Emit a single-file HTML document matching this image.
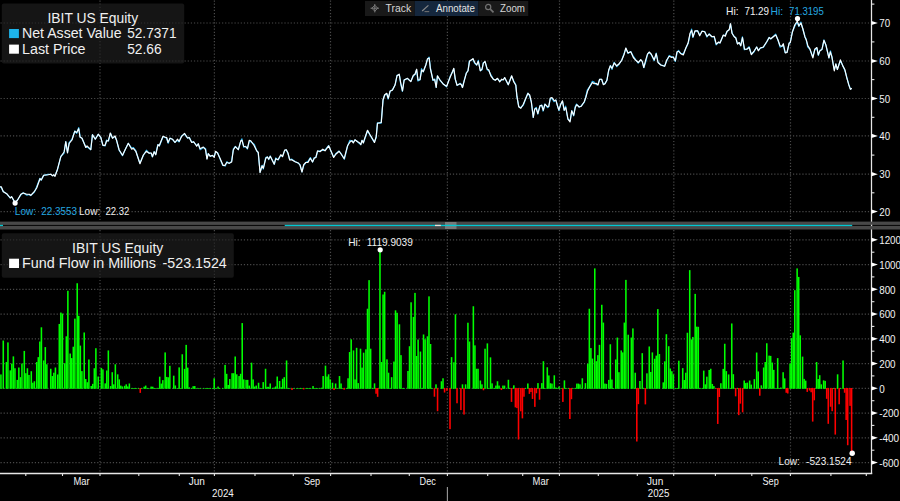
<!DOCTYPE html>
<html lang="en"><head><meta charset="utf-8"><title>IBIT US Equity</title>
<style>html,body{margin:0;padding:0;background:#000;}body{width:900px;height:501px;overflow:hidden;}svg{display:block;}text{font-family:"Liberation Sans", sans-serif;}</style>
</head><body>
<svg width="900" height="501" viewBox="0 0 900 501">
<rect x="0" y="0" width="900" height="501" fill="#000"/>
<g stroke="#4a4a4a" stroke-width="1.2" stroke-dasharray="1.2 1.92" fill="none">
<line x1="0.5" y1="23.0" x2="871.5" y2="23.0"/>
<line x1="0.5" y1="61.0" x2="871.5" y2="61.0"/>
<line x1="0.5" y1="98.5" x2="871.5" y2="98.5"/>
<line x1="0.5" y1="135.9" x2="871.5" y2="135.9"/>
<line x1="0.5" y1="174.2" x2="871.5" y2="174.2"/>
<line x1="0.5" y1="211.6" x2="871.5" y2="211.6"/>
<line x1="0.5" y1="239.8" x2="871.5" y2="239.8"/>
<line x1="0.5" y1="264.6" x2="871.5" y2="264.6"/>
<line x1="0.5" y1="289.3" x2="871.5" y2="289.3"/>
<line x1="0.5" y1="314.1" x2="871.5" y2="314.1"/>
<line x1="0.5" y1="338.8" x2="871.5" y2="338.8"/>
<line x1="0.5" y1="363.6" x2="871.5" y2="363.6"/>
<line x1="0.5" y1="388.3" x2="871.5" y2="388.3"/>
<line x1="0.5" y1="413.1" x2="871.5" y2="413.1"/>
<line x1="0.5" y1="437.8" x2="871.5" y2="437.8"/>
<line x1="0.5" y1="462.6" x2="871.5" y2="462.6"/>
<line x1="100.0" y1="0.5" x2="100.0" y2="221.5"/>
<line x1="100.0" y1="230" x2="100.0" y2="473"/>
<line x1="214.4" y1="0.5" x2="214.4" y2="221.5"/>
<line x1="214.4" y1="230" x2="214.4" y2="473"/>
<line x1="330.5" y1="0.5" x2="330.5" y2="221.5"/>
<line x1="330.5" y1="230" x2="330.5" y2="473"/>
<line x1="447.4" y1="0.5" x2="447.4" y2="221.5"/>
<line x1="447.4" y1="230" x2="447.4" y2="473"/>
<line x1="559.5" y1="0.5" x2="559.5" y2="221.5"/>
<line x1="559.5" y1="230" x2="559.5" y2="473"/>
<line x1="673.8" y1="0.5" x2="673.8" y2="221.5"/>
<line x1="673.8" y1="230" x2="673.8" y2="473"/>
<line x1="790.5" y1="0.5" x2="790.5" y2="221.5"/>
<line x1="790.5" y1="230" x2="790.5" y2="473"/>
</g>
<rect x="1.8" y="3.6" width="182.4" height="59.8" rx="2" fill="#202020" fill-opacity="0.66"/>
<rect x="1.8" y="233.3" width="232" height="44.4" rx="2" fill="#202020" fill-opacity="0.66"/>
<g fill="#00ff00"><rect x="0.16" y="374.44" width="1.56" height="14.36"/><rect x="2.49" y="340.53" width="1.56" height="48.27"/><rect x="5.61" y="362.06" width="1.56" height="26.74"/><rect x="7.16" y="342.39" width="1.56" height="46.41"/><rect x="9.50" y="370.36" width="1.56" height="18.44"/><rect x="11.06" y="363.55" width="1.56" height="25.25"/><rect x="12.61" y="356.37" width="1.56" height="32.43"/><rect x="14.17" y="368.25" width="1.56" height="20.55"/><rect x="16.50" y="379.88" width="1.56" height="8.92"/><rect x="18.06" y="367.51" width="1.56" height="21.29"/><rect x="19.62" y="377.16" width="1.56" height="11.64"/><rect x="21.17" y="363.55" width="1.56" height="25.25"/><rect x="23.51" y="350.93" width="1.56" height="37.87"/><rect x="25.07" y="373.20" width="1.56" height="15.60"/><rect x="26.62" y="368.25" width="1.56" height="20.55"/><rect x="28.18" y="374.94" width="1.56" height="13.87"/><rect x="30.51" y="371.22" width="1.56" height="17.58"/><rect x="32.07" y="382.73" width="1.56" height="6.07"/><rect x="33.63" y="381.25" width="1.56" height="7.55"/><rect x="35.96" y="362.06" width="1.56" height="26.74"/><rect x="37.52" y="357.12" width="1.56" height="31.69"/><rect x="39.07" y="341.52" width="1.56" height="47.28"/><rect x="40.63" y="327.29" width="1.56" height="61.51"/><rect x="42.97" y="360.46" width="1.56" height="28.34"/><rect x="44.52" y="347.09" width="1.56" height="41.71"/><rect x="46.08" y="364.29" width="1.56" height="24.51"/><rect x="49.97" y="368.75" width="1.56" height="20.05"/><rect x="51.53" y="376.05" width="1.56" height="12.75"/><rect x="53.08" y="372.71" width="1.56" height="16.09"/><rect x="54.64" y="367.51" width="1.56" height="21.29"/><rect x="56.98" y="374.44" width="1.56" height="14.36"/><rect x="58.53" y="323.95" width="1.56" height="64.85"/><rect x="60.09" y="312.56" width="1.56" height="76.24"/><rect x="61.65" y="313.56" width="1.56" height="75.25"/><rect x="63.98" y="363.18" width="1.56" height="25.62"/><rect x="65.54" y="336.32" width="1.56" height="52.48"/><rect x="67.09" y="290.79" width="1.56" height="98.01"/><rect x="69.43" y="353.53" width="1.56" height="35.27"/><rect x="70.98" y="358.11" width="1.56" height="30.69"/><rect x="72.54" y="346.72" width="1.56" height="42.08"/><rect x="74.10" y="318.63" width="1.56" height="70.17"/><rect x="76.43" y="283.24" width="1.56" height="105.56"/><rect x="77.99" y="315.78" width="1.56" height="73.02"/><rect x="79.55" y="345.61" width="1.56" height="43.19"/><rect x="81.10" y="371.10" width="1.56" height="17.70"/><rect x="83.44" y="332.49" width="1.56" height="56.31"/><rect x="84.99" y="379.02" width="1.56" height="9.78"/><rect x="86.55" y="382.24" width="1.56" height="6.56"/><rect x="88.11" y="359.47" width="1.56" height="29.33"/><rect x="90.44" y="385.95" width="1.56" height="2.85"/><rect x="92.00" y="383.85" width="1.56" height="4.95"/><rect x="93.56" y="368.25" width="1.56" height="20.55"/><rect x="95.11" y="348.21" width="1.56" height="40.59"/><rect x="97.45" y="376.54" width="1.56" height="12.26"/><rect x="100.56" y="367.88" width="1.56" height="20.92"/><rect x="102.12" y="369.37" width="1.56" height="19.43"/><rect x="104.45" y="383.35" width="1.56" height="5.45"/><rect x="106.01" y="370.48" width="1.56" height="18.32"/><rect x="107.56" y="350.43" width="1.56" height="38.37"/><rect x="109.90" y="386.07" width="1.56" height="2.73"/><rect x="111.46" y="372.21" width="1.56" height="16.59"/><rect x="113.01" y="384.34" width="1.56" height="4.46"/><rect x="114.57" y="364.29" width="1.56" height="24.51"/><rect x="116.90" y="374.32" width="1.56" height="14.48"/><rect x="118.46" y="379.39" width="1.56" height="9.41"/><rect x="120.02" y="385.58" width="1.56" height="3.22"/><rect x="121.57" y="386.44" width="1.56" height="2.36"/><rect x="123.91" y="385.82" width="1.56" height="2.98"/><rect x="125.47" y="384.34" width="1.56" height="4.46"/><rect x="127.02" y="386.44" width="1.56" height="2.36"/><rect x="128.58" y="383.47" width="1.56" height="5.33"/><rect x="130.91" y="388.1" width="1.56" height="0.7"/><rect x="132.47" y="388.1" width="1.56" height="0.7"/><rect x="134.03" y="388.1" width="1.56" height="0.7"/><rect x="135.58" y="388.1" width="1.56" height="0.7"/><rect x="137.92" y="388.1" width="1.56" height="0.7"/><rect x="141.03" y="388.1" width="1.56" height="0.7"/><rect x="143.37" y="386.69" width="1.56" height="2.11"/><rect x="144.92" y="385.58" width="1.56" height="3.22"/><rect x="146.48" y="388.1" width="1.56" height="0.7"/><rect x="148.04" y="388.1" width="1.56" height="0.7"/><rect x="150.37" y="386.57" width="1.56" height="2.23"/><rect x="151.93" y="386.69" width="1.56" height="2.11"/><rect x="153.48" y="388.1" width="1.56" height="0.7"/><rect x="155.04" y="388.1" width="1.56" height="0.7"/><rect x="157.38" y="387.93" width="1.56" height="0.87"/><rect x="158.93" y="376.67" width="1.56" height="12.13"/><rect x="160.49" y="383.60" width="1.56" height="5.20"/><rect x="162.05" y="380.13" width="1.56" height="8.67"/><rect x="164.38" y="352.41" width="1.56" height="36.39"/><rect x="165.94" y="376.92" width="1.56" height="11.88"/><rect x="167.49" y="377.29" width="1.56" height="11.51"/><rect x="169.05" y="365.78" width="1.56" height="23.02"/><rect x="172.94" y="375.68" width="1.56" height="13.12"/><rect x="174.50" y="385.45" width="1.56" height="3.35"/><rect x="176.83" y="388.05" width="1.56" height="0.75"/><rect x="178.39" y="367.39" width="1.56" height="21.41"/><rect x="179.95" y="388.1" width="1.56" height="0.7"/><rect x="181.50" y="354.27" width="1.56" height="34.53"/><rect x="183.84" y="368.87" width="1.56" height="19.93"/><rect x="185.39" y="344.86" width="1.56" height="43.94"/><rect x="186.95" y="367.63" width="1.56" height="21.17"/><rect x="188.51" y="387.31" width="1.56" height="1.49"/><rect x="190.84" y="388.1" width="1.56" height="0.7"/><rect x="192.40" y="386.20" width="1.56" height="2.60"/><rect x="193.96" y="386.07" width="1.56" height="2.73"/><rect x="195.51" y="388.1" width="1.56" height="0.7"/><rect x="197.85" y="388.1" width="1.56" height="0.7"/><rect x="199.40" y="388.1" width="1.56" height="0.7"/><rect x="202.52" y="388.1" width="1.56" height="0.7"/><rect x="204.85" y="388.1" width="1.56" height="0.7"/><rect x="206.41" y="388.1" width="1.56" height="0.7"/><rect x="207.96" y="388.1" width="1.56" height="0.7"/><rect x="209.52" y="388.1" width="1.56" height="0.7"/><rect x="211.86" y="388.1" width="1.56" height="0.7"/><rect x="213.41" y="378.28" width="1.56" height="10.52"/><rect x="214.97" y="388.1" width="1.56" height="0.7"/><rect x="217.30" y="386.57" width="1.56" height="2.23"/><rect x="218.86" y="388.1" width="1.56" height="0.7"/><rect x="221.97" y="388.1" width="1.56" height="0.7"/><rect x="224.31" y="364.91" width="1.56" height="23.89"/><rect x="225.87" y="373.82" width="1.56" height="14.98"/><rect x="227.42" y="384.96" width="1.56" height="3.84"/><rect x="228.98" y="379.02" width="1.56" height="9.78"/><rect x="231.31" y="373.20" width="1.56" height="15.60"/><rect x="232.87" y="373.20" width="1.56" height="15.60"/><rect x="234.43" y="356.50" width="1.56" height="32.30"/><rect x="235.98" y="374.32" width="1.56" height="14.48"/><rect x="238.32" y="376.05" width="1.56" height="12.75"/><rect x="239.87" y="373.82" width="1.56" height="14.98"/><rect x="241.43" y="323.08" width="1.56" height="65.72"/><rect x="242.99" y="379.39" width="1.56" height="9.41"/><rect x="245.32" y="379.88" width="1.56" height="8.92"/><rect x="246.88" y="379.88" width="1.56" height="8.92"/><rect x="248.44" y="385.58" width="1.56" height="3.22"/><rect x="250.77" y="362.68" width="1.56" height="26.12"/><rect x="252.33" y="379.39" width="1.56" height="9.41"/><rect x="253.88" y="386.57" width="1.56" height="2.23"/><rect x="255.44" y="385.58" width="1.56" height="3.22"/><rect x="257.78" y="382.73" width="1.56" height="6.07"/><rect x="259.33" y="388.1" width="1.56" height="0.7"/><rect x="260.89" y="388.1" width="1.56" height="0.7"/><rect x="262.44" y="382.11" width="1.56" height="6.69"/><rect x="264.78" y="368.75" width="1.56" height="20.05"/><rect x="266.34" y="386.81" width="1.56" height="1.99"/><rect x="267.89" y="386.81" width="1.56" height="1.99"/><rect x="269.45" y="383.47" width="1.56" height="5.33"/><rect x="271.78" y="387.93" width="1.56" height="0.87"/><rect x="273.34" y="387.56" width="1.56" height="1.24"/><rect x="274.90" y="386.44" width="1.56" height="2.36"/><rect x="276.45" y="376.54" width="1.56" height="12.26"/><rect x="278.79" y="381.00" width="1.56" height="7.80"/><rect x="280.35" y="387.19" width="1.56" height="1.61"/><rect x="281.90" y="378.77" width="1.56" height="10.03"/><rect x="283.46" y="377.16" width="1.56" height="11.64"/><rect x="285.79" y="360.46" width="1.56" height="28.34"/><rect x="287.35" y="388.1" width="1.56" height="0.7"/><rect x="288.91" y="388.1" width="1.56" height="0.7"/><rect x="292.80" y="388.1" width="1.56" height="0.7"/><rect x="295.91" y="388.1" width="1.56" height="0.7"/><rect x="298.25" y="388.1" width="1.56" height="0.7"/><rect x="299.80" y="388.1" width="1.56" height="0.7"/><rect x="301.36" y="388.1" width="1.56" height="0.7"/><rect x="305.25" y="388.1" width="1.56" height="0.7"/><rect x="306.81" y="388.1" width="1.56" height="0.7"/><rect x="308.36" y="388.1" width="1.56" height="0.7"/><rect x="309.92" y="388.1" width="1.56" height="0.7"/><rect x="312.26" y="386.07" width="1.56" height="2.73"/><rect x="313.81" y="388.1" width="1.56" height="0.7"/><rect x="315.37" y="388.1" width="1.56" height="0.7"/><rect x="316.93" y="388.1" width="1.56" height="0.7"/><rect x="319.26" y="388.1" width="1.56" height="0.7"/><rect x="320.82" y="387.68" width="1.56" height="1.12"/><rect x="322.37" y="376.05" width="1.56" height="12.75"/><rect x="324.71" y="365.65" width="1.56" height="23.15"/><rect x="326.26" y="376.54" width="1.56" height="12.26"/><rect x="327.82" y="374.32" width="1.56" height="14.48"/><rect x="329.38" y="379.39" width="1.56" height="9.41"/><rect x="331.71" y="382.73" width="1.56" height="6.07"/><rect x="334.83" y="383.47" width="1.56" height="5.33"/><rect x="336.38" y="388.1" width="1.56" height="0.7"/><rect x="338.72" y="376.05" width="1.56" height="12.75"/><rect x="340.27" y="383.47" width="1.56" height="5.33"/><rect x="341.83" y="388.1" width="1.56" height="0.7"/><rect x="345.72" y="388.1" width="1.56" height="0.7"/><rect x="347.28" y="378.28" width="1.56" height="10.52"/><rect x="348.84" y="352.04" width="1.56" height="36.76"/><rect x="350.39" y="339.30" width="1.56" height="49.50"/><rect x="352.73" y="350.43" width="1.56" height="38.37"/><rect x="354.28" y="379.39" width="1.56" height="9.41"/><rect x="355.84" y="347.83" width="1.56" height="40.97"/><rect x="357.40" y="383.10" width="1.56" height="5.70"/><rect x="359.73" y="348.70" width="1.56" height="40.10"/><rect x="361.29" y="367.63" width="1.56" height="21.17"/><rect x="362.84" y="352.66" width="1.56" height="36.14"/><rect x="365.18" y="349.32" width="1.56" height="39.48"/><rect x="366.74" y="308.73" width="1.56" height="80.07"/><rect x="368.29" y="280.14" width="1.56" height="108.66"/><rect x="369.85" y="348.70" width="1.56" height="40.10"/><rect x="372.18" y="388.1" width="1.56" height="0.7"/><rect x="373.74" y="383.35" width="1.56" height="5.45"/><rect x="379.19" y="249.71" width="1.56" height="139.09"/><rect x="380.75" y="362.06" width="1.56" height="26.74"/><rect x="382.30" y="294.50" width="1.56" height="94.30"/><rect x="383.86" y="291.77" width="1.56" height="97.03"/><rect x="386.19" y="359.34" width="1.56" height="29.46"/><rect x="387.75" y="372.71" width="1.56" height="16.09"/><rect x="389.31" y="388.1" width="1.56" height="0.7"/><rect x="390.86" y="377.16" width="1.56" height="11.64"/><rect x="393.20" y="361.57" width="1.56" height="27.23"/><rect x="394.75" y="310.34" width="1.56" height="78.46"/><rect x="396.31" y="312.81" width="1.56" height="75.99"/><rect x="398.65" y="324.32" width="1.56" height="64.48"/><rect x="400.20" y="355.13" width="1.56" height="33.67"/><rect x="401.76" y="388.1" width="1.56" height="0.7"/><rect x="403.32" y="388.1" width="1.56" height="0.7"/><rect x="407.21" y="370.98" width="1.56" height="17.82"/><rect x="408.76" y="346.23" width="1.56" height="42.57"/><rect x="410.32" y="302.29" width="1.56" height="86.51"/><rect x="412.66" y="316.90" width="1.56" height="71.90"/><rect x="414.21" y="292.89" width="1.56" height="95.91"/><rect x="415.77" y="356.00" width="1.56" height="32.80"/><rect x="417.33" y="339.54" width="1.56" height="49.26"/><rect x="419.66" y="351.55" width="1.56" height="37.25"/><rect x="421.22" y="388.1" width="1.56" height="0.7"/><rect x="422.77" y="334.47" width="1.56" height="54.33"/><rect x="424.33" y="339.30" width="1.56" height="49.50"/><rect x="426.66" y="336.32" width="1.56" height="52.48"/><rect x="428.22" y="296.35" width="1.56" height="92.45"/><rect x="429.78" y="344.00" width="1.56" height="44.80"/><rect x="431.33" y="388.1" width="1.56" height="0.7"/><rect x="435.23" y="384.34" width="1.56" height="4.46"/><rect x="440.67" y="381.25" width="1.56" height="7.55"/><rect x="442.23" y="378.28" width="1.56" height="10.52"/><rect x="450.79" y="357.12" width="1.56" height="31.69"/><rect x="453.13" y="362.31" width="1.56" height="26.49"/><rect x="454.68" y="314.30" width="1.56" height="74.50"/><rect x="461.69" y="384.34" width="1.56" height="4.46"/><rect x="464.80" y="384.34" width="1.56" height="4.46"/><rect x="467.14" y="322.71" width="1.56" height="66.09"/><rect x="468.69" y="341.52" width="1.56" height="47.28"/><rect x="472.58" y="306.25" width="1.56" height="82.55"/><rect x="474.14" y="345.36" width="1.56" height="43.44"/><rect x="475.70" y="368.75" width="1.56" height="20.05"/><rect x="477.25" y="368.75" width="1.56" height="20.05"/><rect x="479.59" y="380.50" width="1.56" height="8.30"/><rect x="481.15" y="384.34" width="1.56" height="4.46"/><rect x="484.26" y="348.70" width="1.56" height="40.10"/><rect x="486.59" y="343.38" width="1.56" height="45.42"/><rect x="488.15" y="388.1" width="1.56" height="0.7"/><rect x="489.71" y="357.36" width="1.56" height="31.44"/><rect x="491.26" y="383.35" width="1.56" height="5.45"/><rect x="493.60" y="388.1" width="1.56" height="0.7"/><rect x="495.15" y="385.58" width="1.56" height="3.22"/><rect x="496.71" y="381.25" width="1.56" height="7.55"/><rect x="498.27" y="385.58" width="1.56" height="3.22"/><rect x="502.16" y="385.58" width="1.56" height="3.22"/><rect x="503.72" y="385.58" width="1.56" height="3.22"/><rect x="507.61" y="379.76" width="1.56" height="9.04"/><rect x="509.16" y="388.1" width="1.56" height="0.7"/><rect x="513.06" y="385.33" width="1.56" height="3.47"/><rect x="524.73" y="388.1" width="1.56" height="0.7"/><rect x="527.06" y="383.47" width="1.56" height="5.33"/><rect x="537.18" y="383.10" width="1.56" height="5.70"/><rect x="541.07" y="383.10" width="1.56" height="5.70"/><rect x="542.63" y="361.20" width="1.56" height="27.60"/><rect x="544.19" y="388.1" width="1.56" height="0.7"/><rect x="546.52" y="367.26" width="1.56" height="21.54"/><rect x="548.08" y="375.43" width="1.56" height="13.37"/><rect x="549.64" y="383.23" width="1.56" height="5.57"/><rect x="551.19" y="383.60" width="1.56" height="5.20"/><rect x="553.53" y="375.31" width="1.56" height="13.49"/><rect x="555.08" y="387.56" width="1.56" height="1.24"/><rect x="556.64" y="388.1" width="1.56" height="0.7"/><rect x="558.20" y="386.57" width="1.56" height="2.23"/><rect x="560.53" y="388.1" width="1.56" height="0.7"/><rect x="563.64" y="380.38" width="1.56" height="8.42"/><rect x="565.20" y="388.1" width="1.56" height="0.7"/><rect x="567.54" y="388.1" width="1.56" height="0.7"/><rect x="572.21" y="388.1" width="1.56" height="0.7"/><rect x="574.54" y="388.1" width="1.56" height="0.7"/><rect x="576.10" y="383.60" width="1.56" height="5.20"/><rect x="577.65" y="383.60" width="1.56" height="5.20"/><rect x="579.21" y="384.34" width="1.56" height="4.46"/><rect x="581.55" y="378.28" width="1.56" height="10.52"/><rect x="584.66" y="383.10" width="1.56" height="5.70"/><rect x="586.99" y="363.80" width="1.56" height="25.00"/><rect x="588.55" y="308.73" width="1.56" height="80.07"/><rect x="590.11" y="348.08" width="1.56" height="40.72"/><rect x="591.66" y="358.60" width="1.56" height="30.20"/><rect x="594.00" y="268.39" width="1.56" height="120.41"/><rect x="595.55" y="361.20" width="1.56" height="27.60"/><rect x="597.11" y="355.13" width="1.56" height="33.67"/><rect x="598.67" y="344.86" width="1.56" height="43.94"/><rect x="601.00" y="304.77" width="1.56" height="84.03"/><rect x="602.56" y="322.59" width="1.56" height="66.21"/><rect x="604.12" y="383.60" width="1.56" height="5.20"/><rect x="605.67" y="383.85" width="1.56" height="4.95"/><rect x="608.01" y="379.88" width="1.56" height="8.92"/><rect x="609.56" y="344.25" width="1.56" height="44.56"/><rect x="611.12" y="379.51" width="1.56" height="9.29"/><rect x="612.68" y="388.1" width="1.56" height="0.7"/><rect x="615.01" y="359.47" width="1.56" height="29.33"/><rect x="616.57" y="337.56" width="1.56" height="51.24"/><rect x="618.13" y="372.21" width="1.56" height="16.59"/><rect x="620.46" y="350.43" width="1.56" height="38.37"/><rect x="622.02" y="352.41" width="1.56" height="36.39"/><rect x="623.57" y="322.59" width="1.56" height="66.21"/><rect x="625.13" y="279.89" width="1.56" height="108.91"/><rect x="627.46" y="334.72" width="1.56" height="54.08"/><rect x="630.58" y="337.56" width="1.56" height="51.24"/><rect x="632.13" y="328.41" width="1.56" height="60.39"/><rect x="634.47" y="372.71" width="1.56" height="16.09"/><rect x="639.14" y="381.00" width="1.56" height="7.80"/><rect x="641.47" y="353.16" width="1.56" height="35.64"/><rect x="643.03" y="388.1" width="1.56" height="0.7"/><rect x="646.14" y="373.33" width="1.56" height="15.47"/><rect x="648.48" y="346.47" width="1.56" height="42.33"/><rect x="650.04" y="371.97" width="1.56" height="16.83"/><rect x="651.59" y="352.41" width="1.56" height="36.39"/><rect x="653.93" y="358.72" width="1.56" height="30.08"/><rect x="655.48" y="355.63" width="1.56" height="33.17"/><rect x="657.04" y="309.10" width="1.56" height="79.70"/><rect x="658.60" y="354.02" width="1.56" height="34.78"/><rect x="662.49" y="382.36" width="1.56" height="6.44"/><rect x="664.04" y="361.32" width="1.56" height="27.48"/><rect x="665.60" y="334.22" width="1.56" height="54.58"/><rect x="667.94" y="346.23" width="1.56" height="42.57"/><rect x="669.49" y="368.50" width="1.56" height="20.30"/><rect x="671.05" y="371.22" width="1.56" height="17.58"/><rect x="672.61" y="374.32" width="1.56" height="14.48"/><rect x="674.94" y="388.1" width="1.56" height="0.7"/><rect x="676.50" y="388.1" width="1.56" height="0.7"/><rect x="678.05" y="360.70" width="1.56" height="28.10"/><rect x="681.95" y="368.13" width="1.56" height="20.67"/><rect x="683.50" y="380.01" width="1.56" height="8.79"/><rect x="685.06" y="372.71" width="1.56" height="16.09"/><rect x="686.61" y="332.74" width="1.56" height="56.06"/><rect x="688.95" y="270.12" width="1.56" height="118.68"/><rect x="690.51" y="339.42" width="1.56" height="49.38"/><rect x="692.06" y="336.94" width="1.56" height="51.86"/><rect x="694.40" y="293.88" width="1.56" height="94.92"/><rect x="695.95" y="326.67" width="1.56" height="62.13"/><rect x="697.51" y="326.80" width="1.56" height="62.00"/><rect x="699.07" y="388.1" width="1.56" height="0.7"/><rect x="701.40" y="388.1" width="1.56" height="0.7"/><rect x="702.96" y="370.60" width="1.56" height="18.20"/><rect x="704.52" y="384.34" width="1.56" height="4.46"/><rect x="706.07" y="376.67" width="1.56" height="12.13"/><rect x="708.41" y="369.99" width="1.56" height="18.81"/><rect x="709.96" y="368.75" width="1.56" height="20.05"/><rect x="711.52" y="383.97" width="1.56" height="4.83"/><rect x="713.08" y="386.07" width="1.56" height="2.73"/><rect x="720.08" y="383.23" width="1.56" height="5.57"/><rect x="722.42" y="368.87" width="1.56" height="19.93"/><rect x="723.97" y="343.75" width="1.56" height="45.05"/><rect x="725.53" y="371.10" width="1.56" height="17.70"/><rect x="727.86" y="374.44" width="1.56" height="14.36"/><rect x="729.42" y="388.1" width="1.56" height="0.7"/><rect x="730.98" y="323.46" width="1.56" height="65.34"/><rect x="732.53" y="374.19" width="1.56" height="14.61"/><rect x="736.43" y="388.1" width="1.56" height="0.7"/><rect x="743.43" y="380.50" width="1.56" height="8.30"/><rect x="744.99" y="383.10" width="1.56" height="5.70"/><rect x="746.54" y="382.61" width="1.56" height="6.19"/><rect x="748.88" y="380.50" width="1.56" height="8.30"/><rect x="750.43" y="384.59" width="1.56" height="4.21"/><rect x="753.55" y="379.14" width="1.56" height="9.66"/><rect x="755.88" y="352.54" width="1.56" height="36.26"/><rect x="757.44" y="371.47" width="1.56" height="17.33"/><rect x="760.55" y="385.33" width="1.56" height="3.47"/><rect x="762.89" y="367.51" width="1.56" height="21.29"/><rect x="764.44" y="362.06" width="1.56" height="26.74"/><rect x="766.00" y="343.25" width="1.56" height="45.55"/><rect x="768.34" y="355.63" width="1.56" height="33.17"/><rect x="769.89" y="355.88" width="1.56" height="32.92"/><rect x="771.45" y="362.56" width="1.56" height="26.24"/><rect x="773.01" y="369.86" width="1.56" height="18.94"/><rect x="775.34" y="388.1" width="1.56" height="0.7"/><rect x="776.90" y="358.11" width="1.56" height="30.69"/><rect x="778.45" y="388.1" width="1.56" height="0.7"/><rect x="780.01" y="387.56" width="1.56" height="1.24"/><rect x="782.35" y="372.21" width="1.56" height="16.59"/><rect x="783.90" y="378.40" width="1.56" height="10.40"/><rect x="789.35" y="363.43" width="1.56" height="25.37"/><rect x="790.91" y="338.06" width="1.56" height="50.74"/><rect x="792.46" y="332.61" width="1.56" height="56.19"/><rect x="794.02" y="290.17" width="1.56" height="98.63"/><rect x="796.35" y="268.39" width="1.56" height="120.41"/><rect x="797.91" y="276.93" width="1.56" height="111.88"/><rect x="799.47" y="335.34" width="1.56" height="53.46"/><rect x="801.80" y="356.62" width="1.56" height="32.18"/><rect x="803.36" y="378.90" width="1.56" height="9.90"/><rect x="804.92" y="380.63" width="1.56" height="8.17"/><rect x="815.81" y="362.06" width="1.56" height="26.74"/><rect x="817.37" y="379.02" width="1.56" height="9.78"/><rect x="818.92" y="375.18" width="1.56" height="13.62"/><rect x="820.48" y="384.34" width="1.56" height="4.46"/><rect x="822.82" y="380.38" width="1.56" height="8.42"/><rect x="824.37" y="380.88" width="1.56" height="7.93"/><rect x="832.93" y="388.1" width="1.56" height="0.7"/><rect x="836.83" y="374.32" width="1.56" height="14.48"/><rect x="839.94" y="388.1" width="1.56" height="0.7"/><rect x="842.27" y="360.46" width="1.56" height="28.34"/></g>
<g fill="#ff0000"><rect x="139.47" y="388.00" width="1.56" height="4.88"/><rect x="291.24" y="388.00" width="1.56" height="2.03"/><rect x="302.92" y="388.00" width="1.56" height="1.41"/><rect x="333.27" y="388.00" width="1.56" height="2.03"/><rect x="343.39" y="388.00" width="1.56" height="1.66"/><rect x="375.30" y="388.00" width="1.56" height="5.75"/><rect x="376.85" y="388.00" width="1.56" height="8.84"/><rect x="433.67" y="388.00" width="1.56" height="8.72"/><rect x="436.78" y="388.00" width="1.56" height="23.19"/><rect x="443.79" y="388.00" width="1.56" height="4.51"/><rect x="446.12" y="388.00" width="1.56" height="2.78"/><rect x="449.24" y="388.00" width="1.56" height="41.14"/><rect x="456.24" y="388.00" width="1.56" height="15.27"/><rect x="460.13" y="388.00" width="1.56" height="22.08"/><rect x="463.24" y="388.00" width="1.56" height="26.54"/><rect x="482.70" y="388.00" width="1.56" height="2.28"/><rect x="500.60" y="388.00" width="1.56" height="2.03"/><rect x="510.72" y="388.00" width="1.56" height="13.91"/><rect x="514.61" y="388.00" width="1.56" height="19.36"/><rect x="516.17" y="388.00" width="1.56" height="20.10"/><rect x="517.73" y="388.00" width="1.56" height="51.53"/><rect x="520.06" y="388.00" width="1.56" height="23.32"/><rect x="521.62" y="388.00" width="1.56" height="30.37"/><rect x="523.17" y="388.00" width="1.56" height="8.72"/><rect x="528.62" y="388.00" width="1.56" height="5.87"/><rect x="530.18" y="388.00" width="1.56" height="4.01"/><rect x="531.73" y="388.00" width="1.56" height="10.94"/><rect x="534.07" y="388.00" width="1.56" height="18.86"/><rect x="535.63" y="388.00" width="1.56" height="5.25"/><rect x="538.74" y="388.00" width="1.56" height="11.69"/><rect x="562.09" y="388.00" width="1.56" height="13.91"/><rect x="569.09" y="388.00" width="1.56" height="30.99"/><rect x="570.65" y="388.00" width="1.56" height="11.19"/><rect x="636.03" y="388.00" width="1.56" height="53.51"/><rect x="637.58" y="388.00" width="1.56" height="16.14"/><rect x="644.59" y="388.00" width="1.56" height="16.39"/><rect x="715.41" y="388.00" width="1.56" height="0.67"/><rect x="716.97" y="388.00" width="1.56" height="35.94"/><rect x="718.52" y="388.00" width="1.56" height="8.96"/><rect x="734.87" y="388.00" width="1.56" height="8.34"/><rect x="737.98" y="388.00" width="1.56" height="27.15"/><rect x="739.54" y="388.00" width="1.56" height="15.65"/><rect x="741.87" y="388.00" width="1.56" height="24.31"/><rect x="759.00" y="388.00" width="1.56" height="7.73"/><rect x="785.46" y="388.00" width="1.56" height="4.75"/><rect x="787.01" y="388.00" width="1.56" height="5.50"/><rect x="806.47" y="388.00" width="1.56" height="3.89"/><rect x="808.81" y="388.00" width="1.56" height="2.53"/><rect x="810.36" y="388.00" width="1.56" height="4.26"/><rect x="811.92" y="388.00" width="1.56" height="33.59"/><rect x="813.48" y="388.00" width="1.56" height="12.30"/><rect x="825.93" y="388.00" width="1.56" height="10.82"/><rect x="827.49" y="388.00" width="1.56" height="35.82"/><rect x="829.82" y="388.00" width="1.56" height="18.74"/><rect x="831.38" y="388.00" width="1.56" height="23.19"/><rect x="834.49" y="388.00" width="1.56" height="46.58"/><rect x="838.38" y="388.00" width="1.56" height="16.26"/><rect x="843.83" y="388.00" width="1.56" height="4.75"/><rect x="845.39" y="388.00" width="1.56" height="31.98"/><rect x="846.94" y="388.00" width="1.56" height="57.23"/><rect x="849.28" y="388.00" width="1.56" height="17.87"/><rect x="850.83" y="388.00" width="1.56" height="65.04"/></g>
<polyline points="-0.1,187.2 1.1,187.3 3.3,191.6 6.7,193.8 10.1,197.8 11.5,196.8 15.0,202.6 17.4,200.0 20.9,194.9 23.2,192.8 26.9,195.2 29.1,194.5 30.6,195.6 34.4,192.0 36.5,187.3 39.9,178.3 41.2,180.2 43.6,175.4 48.4,174.3 50.8,174.4 52.5,175.5 53.8,175.6 54.9,175.7 57.7,168.9 60.9,156.3 64.0,153.2 65.8,141.7 67.5,152.7 69.0,142.8 72.0,139.2 74.9,131.0 76.7,133.3 78.7,127.7 80.2,137.3 82.0,138.2 85.9,147.3 87.1,146.8 90.7,149.7 92.4,134.6 95.3,139.1 98.1,134.3 100.9,137.6 102.8,145.3 105.2,145.8 106.5,140.1 108.5,141.0 110.5,133.3 112.5,138.0 114.9,136.8 116.5,139.9 119.0,150.0 122.5,155.7 125.0,150.0 128.3,143.3 131.6,148.0 133.4,147.7 135.8,150.7 139.8,163.1 143.5,155.2 146.4,150.2 149.1,153.1 150.1,153.2 151.1,153.3 152.3,156.9 154.1,151.7 155.6,154.7 157.8,144.6 159.4,145.9 163.1,136.5 165.7,137.8 166.6,138.3 168.2,143.2 170.0,138.1 172.3,139.2 174.9,142.4 177.3,140.2 179.0,141.9 181.5,136.1 184.5,134.0 187.7,138.1 189.4,137.4 191.6,142.1 193.5,141.8 196.8,145.6 198.2,143.9 200.2,149.7 203.5,147.4 205.6,148.7 206.9,158.7 208.1,153.6 210.1,156.2 212.6,155.7 214.4,156.3 215.7,151.7 217.7,152.7 219.9,158.6 222.8,165.5 225.2,166.0 226.9,161.7 229.3,163.4 231.5,161.4 233.4,149.0 235.4,146.4 238.4,149.7 240.7,141.3 241.9,138.9 243.7,147.1 245.6,146.4 247.3,149.0 249.4,141.3 250.6,141.5 254.3,144.4 256.6,150.5 258.1,152.4 260.2,172.1 262.2,165.3 263.3,169.0 265.7,157.6 267.4,156.9 268.7,159.6 270.2,156.0 274.4,164.3 275.7,158.0 278.2,159.9 280.8,155.3 282.5,156.4 284.7,150.6 286.1,149.8 287.8,153.1 289.7,159.7 291.8,159.2 295.0,161.5 298.3,163.1 300.0,164.7 301.9,171.8 303.7,165.6 305.8,162.6 308.0,161.3 310.4,157.6 312.6,162.0 314.2,157.7 316.0,157.4 317.6,151.7 319.9,150.8 322.8,150.2 324.8,150.4 328.5,145.6 331.2,151.8 333.5,157.0 336.0,153.4 339.0,151.1 341.5,154.2 344.4,159.1 347.7,145.7 349.9,140.3 352.2,140.9 353.1,142.4 354.9,140.0 357.3,141.3 359.0,143.3 360.8,144.6 361.9,140.3 363.4,142.8 365.5,136.7 367.6,130.6 369.6,134.2 371.5,137.6 374.3,142.1 376.2,137.6 377.4,122.8 381.1,123.1 383.1,99.7 384.5,95.5 386.7,93.6 388.1,99.0 390.2,91.0 392.3,90.1 395.2,84.8 397.0,75.4 399.4,74.8 400.7,83.8 402.4,91.3 404.0,80.1 407.4,78.5 410.7,81.4 413.2,76.2 415.0,74.4 416.5,69.7 417.9,80.9 420.0,79.8 421.5,68.7 423.1,71.9 426.0,64.4 427.7,59.0 429.1,57.2 430.5,68.3 432.9,80.4 434.8,79.0 436.2,87.4 437.3,76.0 439.8,80.0 443.1,83.8 446.5,86.9 450.1,76.6 452.4,71.7 453.8,68.8 455.1,78.8 457.2,85.4 460.2,83.3 461.5,84.6 462.4,87.5 464.1,80.8 466.3,72.9 468.0,70.8 469.3,61.3 472.9,58.9 474.5,63.0 476.6,65.1 478.3,60.4 480.4,70.6 482.1,69.6 483.2,62.9 485.2,61.8 487.3,69.9 488.5,70.3 490.9,74.8 493.4,79.3 495.3,80.0 497.5,78.8 499.9,81.1 501.7,79.9 503.4,79.5 504.6,77.8 508.2,84.8 511.5,76.2 513.8,81.1 515.9,85.0 516.8,96.1 518.8,106.7 520.8,107.6 523.4,105.0 525.7,98.7 527.8,93.2 529.6,95.9 531.4,102.3 533.2,117.4 534.7,108.8 536.3,107.4 537.9,114.0 539.9,105.9 541.8,105.1 543.1,111.0 544.8,104.1 547.6,107.5 548.8,106.5 550.3,98.6 552.0,98.4 554.0,101.6 556.0,100.1 557.5,105.8 559.0,110.6 560.7,104.1 562.4,101.2 564.2,110.2 565.6,106.2 567.8,119.0 570.2,120.9 571.8,110.7 573.6,115.8 575.1,107.1 576.5,104.1 579.1,107.0 581.1,106.0 584.4,102.1 585.6,97.5 587.3,90.2 589.9,86.4 592.4,81.3 594.1,82.1 596.3,84.6 597.9,84.6 599.5,79.4 601.5,79.4 603.5,84.3 604.9,83.6 606.8,80.7 608.6,71.1 610.5,65.5 612.1,69.4 614.2,62.3 616.8,66.7 619.2,64.0 621.8,60.0 624.0,53.8 626.0,48.4 627.9,53.4 630.7,51.6 633.2,56.0 635.9,60.1 638.2,63.2 640.6,59.9 642.4,61.6 643.8,67.7 646.0,60.9 647.5,54.4 649.0,52.3 651.2,54.5 651.6,55.2 654.2,60.7 656.2,53.1 658.0,62.0 660.7,64.9 664.5,66.1 666.5,61.4 669.2,55.5 671.6,56.7 673.2,57.0 675.3,61.4 677.2,52.3 678.5,50.4 680.6,53.4 683.3,53.9 685.8,48.5 688.2,43.3 690.2,34.2 691.6,29.1 692.8,37.4 695.1,31.4 697.7,30.7 699.8,35.0 702.0,31.2 704.8,31.7 706.9,37.0 709.1,33.8 711.8,36.7 714.3,37.1 716.1,44.8 718.7,42.3 719.9,43.1 723.1,35.7 725.2,35.0 727.1,31.6 729.4,29.3 730.4,23.8 732.2,33.2 734.0,36.2 735.8,37.7 737.4,43.7 739.3,42.9 740.6,45.6 742.4,36.8 744.3,49.6 746.8,49.2 749.1,46.8 751.5,54.3 754.1,51.7 756.6,47.0 758.5,50.3 760.3,48.2 763.3,47.4 766.8,42.0 769.1,37.4 770.7,39.0 773.1,36.7 775.6,34.1 778.2,40.7 780.1,47.1 781.9,46.3 783.1,44.5 785.1,52.6 787.1,52.1 789.1,43.4 790.1,42.9 792.4,31.7 794.9,26.0 797.2,22.0 798.8,26.4 800.9,22.1 802.7,28.5 805.1,37.0 806.1,39.1 807.7,46.8 809.9,49.3 812.7,57.0 814.7,50.0 816.8,48.0 818.4,55.3 819.8,50.6 822.1,49.2 824.0,40.0 825.8,44.9 829.0,57.9 830.5,51.0 831.7,55.9 834.2,69.5 836.0,64.1 837.3,69.5 840.4,60.5 843.0,66.3 844.9,70.4 847.0,78.0 848.7,84.2 850.3,88.8 851.6,88.9" fill="none" stroke="#2bb4ee" stroke-width="1.25" stroke-linejoin="round"/>
<polyline points="0.0,186.7 1.3,186.7 3.3,191.7 6.7,193.7 10.3,198.0 11.7,196.7 15.0,202.5 17.5,200.3 20.8,194.2 23.3,193.0 26.7,194.2 29.2,194.2 30.8,195.3 34.2,191.7 36.7,188.0 40.0,178.7 41.2,180.0 43.7,175.3 48.3,174.7 50.8,174.2 52.5,175.8 53.7,174.7 55.0,176.3 57.5,169.2 60.8,156.7 64.2,151.7 65.8,141.7 67.5,153.0 69.2,143.3 72.0,140.0 74.7,131.3 76.7,132.5 78.7,128.7 80.0,137.0 82.0,138.3 85.8,147.5 87.0,145.8 90.8,149.7 92.5,134.7 95.3,139.2 98.3,134.2 100.8,137.5 103.0,145.3 105.0,145.3 106.7,140.8 108.3,140.8 110.3,133.0 112.5,138.3 115.0,135.8 116.7,140.8 119.2,150.0 122.5,155.3 125.0,150.0 128.3,143.3 131.7,149.2 133.3,148.3 135.8,151.3 140.0,163.7 143.3,155.0 146.3,151.3 149.2,153.3 150.0,153.0 151.3,153.0 152.5,156.7 154.2,151.7 155.8,154.7 158.0,144.7 159.2,145.8 163.0,136.3 165.8,137.5 166.7,137.5 168.0,142.5 170.0,138.3 172.5,139.2 175.0,142.5 177.5,139.2 179.2,141.3 181.7,136.3 184.5,133.3 187.5,138.0 189.2,137.5 191.7,142.5 193.7,141.7 196.7,146.3 198.3,143.7 200.0,148.7 203.3,147.0 205.5,149.7 207.0,159.2 208.3,153.7 210.3,156.3 212.5,155.3 214.2,157.5 215.5,151.3 217.5,153.0 220.0,158.3 223.0,165.3 225.0,165.3 226.7,162.5 229.2,163.3 231.7,162.0 233.3,150.0 235.3,146.7 238.3,149.7 240.8,140.8 242.0,140.3 243.7,146.3 245.8,146.7 247.5,148.3 249.2,140.3 250.8,140.8 254.2,145.8 256.7,150.8 258.3,152.5 260.0,172.5 262.0,165.8 263.3,168.3 265.8,158.3 267.5,157.0 268.7,159.2 270.3,156.3 274.2,164.2 275.8,158.7 278.0,159.7 280.8,154.7 282.5,156.7 284.7,150.0 286.3,149.7 288.0,153.0 289.7,160.0 291.7,159.7 295.0,161.7 298.3,163.0 300.0,165.0 302.0,172.0 303.7,164.7 305.8,162.5 308.0,162.5 310.3,158.3 312.5,162.0 314.2,158.3 315.8,157.5 317.5,150.8 320.0,151.7 322.8,149.2 325.0,150.8 328.7,145.8 331.3,151.7 333.7,157.5 335.8,154.2 339.2,151.3 341.7,155.0 344.2,158.7 347.5,145.8 350.0,142.0 352.0,140.8 353.3,143.0 355.0,139.7 357.5,141.7 359.2,142.5 360.8,144.7 362.0,140.3 363.3,143.0 365.3,136.7 367.5,130.3 369.7,134.2 371.7,137.5 374.5,142.5 376.2,136.7 377.5,123.3 381.3,122.5 383.0,100.0 384.7,94.7 386.7,93.3 388.3,98.3 390.0,91.3 392.5,90.0 395.0,85.0 397.0,75.8 399.2,74.2 400.8,83.3 402.5,90.8 404.2,80.0 407.5,78.3 410.8,81.7 413.3,75.3 415.0,74.2 416.7,69.2 418.0,80.0 420.0,79.7 421.7,70.0 423.3,71.7 425.8,65.0 427.5,58.7 429.2,58.0 430.3,68.3 433.0,80.0 434.7,79.7 436.2,87.5 437.5,75.8 440.0,80.0 443.3,84.2 446.7,86.3 450.0,77.5 452.5,71.7 453.8,68.3 455.3,79.2 457.0,85.3 460.0,83.7 461.3,84.7 462.5,87.5 464.2,80.8 466.3,73.3 468.0,70.8 469.5,61.3 473.0,58.7 474.7,62.5 476.7,65.0 478.3,61.3 480.3,70.8 482.0,69.2 483.3,63.3 485.0,61.3 487.2,69.2 488.7,69.7 490.8,75.8 493.3,79.2 495.3,80.3 497.5,78.3 499.7,82.0 501.7,79.2 503.3,80.0 504.7,77.5 508.3,84.7 511.7,75.8 513.7,81.7 515.8,85.3 517.0,96.7 518.7,106.7 520.8,108.3 523.3,104.2 525.8,98.3 528.0,93.3 529.7,95.0 531.3,101.7 533.3,117.5 534.7,109.2 536.2,108.3 537.8,113.7 540.0,105.8 541.7,105.3 543.3,110.3 545.0,104.2 547.5,106.7 548.7,106.7 550.3,98.0 552.0,97.5 554.2,100.8 555.8,100.0 557.5,105.8 558.8,110.0 560.8,104.2 562.5,100.8 564.2,110.3 565.8,107.5 568.0,119.2 570.0,122.0 571.7,110.8 573.7,115.3 575.3,107.5 576.7,104.7 579.2,107.0 581.3,106.3 584.2,101.7 585.8,97.5 587.5,91.3 589.7,86.7 592.5,82.5 594.2,83.7 596.3,83.3 598.0,85.0 599.7,79.2 601.7,79.2 603.3,84.7 605.0,83.7 607.0,80.0 608.7,70.0 610.3,65.8 612.0,68.3 614.2,63.0 616.7,65.8 619.2,63.7 621.7,60.3 624.2,54.2 625.8,48.0 628.0,53.0 630.8,51.7 633.3,57.5 635.8,60.3 638.3,62.5 640.8,59.7 642.2,61.3 643.8,67.5 645.8,59.7 647.5,54.2 649.2,52.0 651.3,54.2 651.7,55.0 654.2,60.0 656.2,53.7 658.0,62.5 660.8,65.0 664.7,66.3 666.7,60.0 669.2,56.3 671.7,57.5 673.3,57.0 675.3,60.8 677.0,51.7 678.7,51.3 680.8,53.7 683.3,55.0 685.8,48.0 688.0,43.3 690.0,33.3 691.7,30.3 693.0,37.0 695.0,30.8 697.5,30.8 699.7,35.8 702.0,31.3 704.7,31.7 707.0,36.3 709.2,34.2 712.0,36.7 714.2,36.3 716.3,44.2 718.7,42.0 720.0,43.0 723.3,35.0 725.3,36.3 727.0,31.3 729.2,29.7 730.5,23.7 732.0,33.3 734.2,36.7 735.8,38.0 737.5,44.2 739.2,42.5 740.8,45.8 742.5,37.5 744.5,49.2 746.7,49.2 749.2,47.5 751.3,54.7 754.2,50.8 756.7,47.0 758.3,50.8 760.3,48.0 763.3,47.0 766.7,41.7 769.2,37.5 770.8,38.7 773.3,36.7 775.8,35.0 778.0,40.0 780.0,45.8 782.0,46.3 783.3,43.7 785.3,53.0 787.0,52.5 789.2,43.0 790.3,42.5 792.5,31.7 794.7,25.0 797.3,21.0 798.9,26.0 800.9,23.0 802.9,29.0 804.9,36.9 806.3,39.9 807.9,45.9 809.9,48.9 812.9,57.9 814.9,48.9 816.9,47.5 818.3,54.9 819.9,50.9 821.9,49.5 823.9,40.3 825.9,44.9 828.9,57.9 830.3,51.9 831.9,56.9 834.3,70.9 835.8,63.9 837.4,69.5 840.4,59.9 842.8,65.9 844.8,69.5 846.8,77.9 848.8,84.9 850.4,89.4 851.8,88.2" fill="none" stroke="#ffffff" stroke-width="1.15" stroke-linejoin="round"/>
<line x1="871.5" y1="0" x2="871.5" y2="474" stroke="#e6e6e6" stroke-width="1.25"/>
<line x1="0" y1="473.5" x2="872.2" y2="473.5" stroke="#e6e6e6" stroke-width="1.3"/>
<polygon points="871.5,20.9 877.9,23.0 871.5,25.1" fill="#ffffff"/>
<text x="879.2" y="27.2" font-size="11.5" fill="#f2f2f2" textLength="10.9" lengthAdjust="spacingAndGlyphs">70</text>
<polygon points="871.5,58.9 877.9,61.0 871.5,63.1" fill="#ffffff"/>
<text x="879.2" y="65.2" font-size="11.5" fill="#f2f2f2" textLength="10.9" lengthAdjust="spacingAndGlyphs">60</text>
<polygon points="871.5,96.4 877.9,98.5 871.5,100.5" fill="#ffffff"/>
<text x="879.2" y="102.7" font-size="11.5" fill="#f2f2f2" textLength="10.9" lengthAdjust="spacingAndGlyphs">50</text>
<polygon points="871.5,133.8 877.9,135.9 871.5,138.0" fill="#ffffff"/>
<text x="879.2" y="140.1" font-size="11.5" fill="#f2f2f2" textLength="10.9" lengthAdjust="spacingAndGlyphs">40</text>
<polygon points="871.5,172.1 877.9,174.2 871.5,176.3" fill="#ffffff"/>
<text x="879.2" y="178.4" font-size="11.5" fill="#f2f2f2" textLength="10.9" lengthAdjust="spacingAndGlyphs">30</text>
<polygon points="871.5,209.5 877.9,211.6 871.5,213.7" fill="#ffffff"/>
<text x="879.2" y="215.8" font-size="11.5" fill="#f2f2f2" textLength="10.9" lengthAdjust="spacingAndGlyphs">20</text>
<line x1="871.5" y1="4.1" x2="874.4" y2="4.1" stroke="#e6e6e6" stroke-width="1.1"/>
<line x1="871.5" y1="41.9" x2="874.4" y2="41.9" stroke="#e6e6e6" stroke-width="1.1"/>
<line x1="871.5" y1="79.6" x2="874.4" y2="79.6" stroke="#e6e6e6" stroke-width="1.1"/>
<line x1="871.5" y1="117.3" x2="874.4" y2="117.3" stroke="#e6e6e6" stroke-width="1.1"/>
<line x1="871.5" y1="155.1" x2="874.4" y2="155.1" stroke="#e6e6e6" stroke-width="1.1"/>
<line x1="871.5" y1="192.8" x2="874.4" y2="192.8" stroke="#e6e6e6" stroke-width="1.1"/>
<polygon points="871.5,237.7 877.9,239.8 871.5,241.9" fill="#ffffff"/>
<text x="879.2" y="244.0" font-size="11.5" fill="#f2f2f2" textLength="21.8" lengthAdjust="spacingAndGlyphs">1200</text>
<polygon points="871.5,262.4 877.9,264.6 871.5,266.7" fill="#ffffff"/>
<text x="879.2" y="268.8" font-size="11.5" fill="#f2f2f2" textLength="21.8" lengthAdjust="spacingAndGlyphs">1000</text>
<polygon points="871.5,287.2 877.9,289.3 871.5,291.4" fill="#ffffff"/>
<text x="879.2" y="293.5" font-size="11.5" fill="#f2f2f2" textLength="16.4" lengthAdjust="spacingAndGlyphs">800</text>
<polygon points="871.5,311.9 877.9,314.1 871.5,316.2" fill="#ffffff"/>
<text x="879.2" y="318.2" font-size="11.5" fill="#f2f2f2" textLength="16.4" lengthAdjust="spacingAndGlyphs">600</text>
<polygon points="871.5,336.7 877.9,338.8 871.5,340.9" fill="#ffffff"/>
<text x="879.2" y="343.0" font-size="11.5" fill="#f2f2f2" textLength="16.4" lengthAdjust="spacingAndGlyphs">400</text>
<polygon points="871.5,361.4 877.9,363.6 871.5,365.7" fill="#ffffff"/>
<text x="879.2" y="367.8" font-size="11.5" fill="#f2f2f2" textLength="16.4" lengthAdjust="spacingAndGlyphs">200</text>
<polygon points="871.5,386.2 877.9,388.3 871.5,390.4" fill="#ffffff"/>
<text x="879.2" y="392.5" font-size="11.5" fill="#f2f2f2" textLength="5.5" lengthAdjust="spacingAndGlyphs">0</text>
<polygon points="871.5,410.9 877.9,413.1 871.5,415.2" fill="#ffffff"/>
<text x="879.2" y="417.2" font-size="11.5" fill="#f2f2f2" textLength="20.0" lengthAdjust="spacingAndGlyphs">-200</text>
<polygon points="871.5,435.7 877.9,437.8 871.5,439.9" fill="#ffffff"/>
<text x="879.2" y="442.0" font-size="11.5" fill="#f2f2f2" textLength="20.0" lengthAdjust="spacingAndGlyphs">-400</text>
<polygon points="871.5,460.4 877.9,462.6 871.5,464.7" fill="#ffffff"/>
<text x="879.2" y="466.8" font-size="11.5" fill="#f2f2f2" textLength="20.0" lengthAdjust="spacingAndGlyphs">-600</text>
<line x1="871.5" y1="252.2" x2="874.4" y2="252.2" stroke="#e6e6e6" stroke-width="1.1"/>
<line x1="871.5" y1="276.9" x2="874.4" y2="276.9" stroke="#e6e6e6" stroke-width="1.1"/>
<line x1="871.5" y1="301.7" x2="874.4" y2="301.7" stroke="#e6e6e6" stroke-width="1.1"/>
<line x1="871.5" y1="326.4" x2="874.4" y2="326.4" stroke="#e6e6e6" stroke-width="1.1"/>
<line x1="871.5" y1="351.2" x2="874.4" y2="351.2" stroke="#e6e6e6" stroke-width="1.1"/>
<line x1="871.5" y1="375.9" x2="874.4" y2="375.9" stroke="#e6e6e6" stroke-width="1.1"/>
<line x1="871.5" y1="400.7" x2="874.4" y2="400.7" stroke="#e6e6e6" stroke-width="1.1"/>
<line x1="871.5" y1="425.4" x2="874.4" y2="425.4" stroke="#e6e6e6" stroke-width="1.1"/>
<line x1="871.5" y1="450.2" x2="874.4" y2="450.2" stroke="#e6e6e6" stroke-width="1.1"/>
<rect x="0" y="221.6" width="900" height="7.9" fill="#484848"/>
<rect x="0" y="224.9" width="900" height="1.1" fill="#0a0a0a"/>
<rect x="0" y="224.8" width="3" height="1.3" fill="#00c8d2"/>
<rect x="284.7" y="224.8" width="567.5" height="1.3" fill="#00c8d2"/>
<rect x="445" y="222" width="11.5" height="7" fill="#8a8a8a" fill-opacity="0.75"/>
<rect x="445" y="224.8" width="11.5" height="1.3" fill="#00c8d2"/>
<rect x="435" y="224.8" width="5.8" height="1.3" fill="#e8e0dc"/>
<rect x="870.9" y="224.7" width="1.3" height="1.4" fill="#e6e6e6"/>
<line x1="25.8" y1="473.5" x2="25.8" y2="476" stroke="#e6e6e6" stroke-width="1.1"/>
<line x1="62.5" y1="473.5" x2="62.5" y2="476" stroke="#e6e6e6" stroke-width="1.1"/>
<line x1="100.0" y1="473.5" x2="100.0" y2="476" stroke="#e6e6e6" stroke-width="1.1"/>
<line x1="138.8" y1="473.5" x2="138.8" y2="476" stroke="#e6e6e6" stroke-width="1.1"/>
<line x1="179.3" y1="473.5" x2="179.3" y2="476" stroke="#e6e6e6" stroke-width="1.1"/>
<line x1="214.4" y1="473.5" x2="214.4" y2="476" stroke="#e6e6e6" stroke-width="1.1"/>
<line x1="255.0" y1="473.5" x2="255.0" y2="476" stroke="#e6e6e6" stroke-width="1.1"/>
<line x1="293.3" y1="473.5" x2="293.3" y2="476" stroke="#e6e6e6" stroke-width="1.1"/>
<line x1="330.6" y1="473.5" x2="330.6" y2="476" stroke="#e6e6e6" stroke-width="1.1"/>
<line x1="371.0" y1="473.5" x2="371.0" y2="476" stroke="#e6e6e6" stroke-width="1.1"/>
<line x1="409.3" y1="473.5" x2="409.3" y2="476" stroke="#e6e6e6" stroke-width="1.1"/>
<line x1="447.4" y1="473.5" x2="447.4" y2="476" stroke="#e6e6e6" stroke-width="1.1"/>
<line x1="487.7" y1="473.5" x2="487.7" y2="476" stroke="#e6e6e6" stroke-width="1.1"/>
<line x1="522.7" y1="473.5" x2="522.7" y2="476" stroke="#e6e6e6" stroke-width="1.1"/>
<line x1="559.4" y1="473.5" x2="559.4" y2="476" stroke="#e6e6e6" stroke-width="1.1"/>
<line x1="598.3" y1="473.5" x2="598.3" y2="476" stroke="#e6e6e6" stroke-width="1.1"/>
<line x1="637.3" y1="473.5" x2="637.3" y2="476" stroke="#e6e6e6" stroke-width="1.1"/>
<line x1="673.7" y1="473.5" x2="673.7" y2="476" stroke="#e6e6e6" stroke-width="1.1"/>
<line x1="715.4" y1="473.5" x2="715.4" y2="476" stroke="#e6e6e6" stroke-width="1.1"/>
<line x1="751.8" y1="473.5" x2="751.8" y2="476" stroke="#e6e6e6" stroke-width="1.1"/>
<line x1="790.4" y1="473.5" x2="790.4" y2="476" stroke="#e6e6e6" stroke-width="1.1"/>
<line x1="830.9" y1="473.5" x2="830.9" y2="476" stroke="#e6e6e6" stroke-width="1.1"/>
<line x1="866.3" y1="473.5" x2="866.3" y2="476" stroke="#e6e6e6" stroke-width="1.1"/>
<line x1="447.4" y1="487" x2="447.4" y2="501" stroke="#9a9a9a" stroke-width="1.1"/>
<text x="81.6" y="484.7" font-size="10.8" fill="#f2f2f2" text-anchor="middle" textLength="16.2" lengthAdjust="spacingAndGlyphs">Mar</text>
<text x="196.8" y="484.7" font-size="10.8" fill="#f2f2f2" text-anchor="middle" textLength="16.2" lengthAdjust="spacingAndGlyphs">Jun</text>
<text x="312.0" y="484.7" font-size="10.8" fill="#f2f2f2" text-anchor="middle" textLength="16.2" lengthAdjust="spacingAndGlyphs">Sep</text>
<text x="427.7" y="484.7" font-size="10.8" fill="#f2f2f2" text-anchor="middle" textLength="16.2" lengthAdjust="spacingAndGlyphs">Dec</text>
<text x="540.7" y="484.7" font-size="10.8" fill="#f2f2f2" text-anchor="middle" textLength="16.2" lengthAdjust="spacingAndGlyphs">Mar</text>
<text x="655.2" y="484.7" font-size="10.8" fill="#f2f2f2" text-anchor="middle" textLength="16.2" lengthAdjust="spacingAndGlyphs">Jun</text>
<text x="770.6" y="484.7" font-size="10.8" fill="#f2f2f2" text-anchor="middle" textLength="16.2" lengthAdjust="spacingAndGlyphs">Sep</text>
<text x="222.9" y="497" font-size="11" fill="#f2f2f2" text-anchor="middle" textLength="21.7" lengthAdjust="spacingAndGlyphs">2024</text>
<text x="658.6" y="497" font-size="11" fill="#f2f2f2" text-anchor="middle" textLength="21.7" lengthAdjust="spacingAndGlyphs">2025</text>
<text x="92.8" y="23" font-size="14" fill="#f0f0f0" text-anchor="middle" textLength="90.6" lengthAdjust="spacingAndGlyphs">IBIT US Equity</text>
<rect x="9.1" y="29" width="9.8" height="9.1" fill="#1db4ec"/>
<text x="22" y="38.4" font-size="14" fill="#f0f0f0" textLength="99.6" lengthAdjust="spacingAndGlyphs">Net Asset Value</text>
<text x="127.2" y="38.4" font-size="14" fill="#f0f0f0" textLength="49.3" lengthAdjust="spacingAndGlyphs">52.7371</text>
<rect x="9.1" y="44.6" width="9.8" height="9.1" fill="#ffffff"/>
<text x="22" y="54.1" font-size="14" fill="#f0f0f0" textLength="63.5" lengthAdjust="spacingAndGlyphs">Last Price</text>
<text x="127.2" y="54.1" font-size="14" fill="#f0f0f0" textLength="34.4" lengthAdjust="spacingAndGlyphs">52.66</text>
<text x="117.7" y="253" font-size="14" fill="#f0f0f0" text-anchor="middle" textLength="91.2" lengthAdjust="spacingAndGlyphs">IBIT US Equity</text>
<rect x="9.1" y="258.7" width="9.9" height="9.3" fill="#ffffff"/>
<text y="268.4" font-size="14" fill="#f0f0f0"><tspan x="22" textLength="134" lengthAdjust="spacingAndGlyphs">Fund Flow in Millions</tspan> <tspan x="162.6" textLength="64.2" lengthAdjust="spacingAndGlyphs">-523.1524</tspan></text>
<rect x="365" y="1" width="49.7" height="15" fill="#191919"/>
<rect x="414.7" y="1" width="63.8" height="15" fill="#15273d"/>
<rect x="478.5" y="1" width="49.7" height="15" fill="#191919"/>
<g stroke="#7d7d7d" stroke-width="1" fill="none"><path d="M374.8 4 V12.4 M370.6 8.2 H379"/><path d="M374.8 5.2 L377.8 8.2 L374.8 11.2 L371.8 8.2 Z" stroke-width="0.9"/></g>
<g stroke="#8a8a8a" stroke-width="1.1" fill="none"><path d="M422.2 11 L428.4 5.4"/><path d="M424.5 11.6 H429.2" stroke="#6f6f6f"/></g>
<g stroke="#727272" stroke-width="1.2" fill="none"><circle cx="488.2" cy="7" r="2.6"/><path d="M490.3 9.1 L493.5 12.3" stroke-width="1.7"/></g>
<text x="385.6" y="11.8" font-size="10.6" fill="#d6d6d6" textLength="25.6" lengthAdjust="spacingAndGlyphs">Track</text>
<text x="436" y="11.8" font-size="10.6" fill="#e2e2e2" textLength="39" lengthAdjust="spacingAndGlyphs">Annotate</text>
<text x="500" y="11.8" font-size="10.6" fill="#d6d6d6" textLength="25" lengthAdjust="spacingAndGlyphs">Zoom</text>
<text y="14.7" font-size="10.8" fill="#f0f0f0"><tspan x="726" textLength="12.6" lengthAdjust="spacingAndGlyphs">Hi:</tspan> <tspan x="744.4" textLength="24.7" lengthAdjust="spacingAndGlyphs">71.29</tspan></text>
<text y="14.7" font-size="10.8" fill="#25a9e0"><tspan x="770.6" textLength="12.6" lengthAdjust="spacingAndGlyphs">Hi:</tspan> <tspan x="789.1" textLength="34.7" lengthAdjust="spacingAndGlyphs">71.3195</tspan></text>
<circle cx="797.5" cy="18.5" r="2.6" fill="#fff"/>
<text y="214.9" font-size="10.8" fill="#25a9e0"><tspan x="14.8" textLength="21.2" lengthAdjust="spacingAndGlyphs">Low:</tspan> <tspan x="41.2" textLength="35.8" lengthAdjust="spacingAndGlyphs">22.3553</tspan></text>
<text y="214.9" font-size="10.8" fill="#f0f0f0"><tspan x="79" textLength="21.2" lengthAdjust="spacingAndGlyphs">Low:</tspan> <tspan x="105.4" textLength="24" lengthAdjust="spacingAndGlyphs">22.32</tspan></text>
<circle cx="15.1" cy="203.1" r="2.6" fill="#fff"/>
<text y="245.8" font-size="10.8" fill="#f0f0f0"><tspan x="348.3" textLength="12.4" lengthAdjust="spacingAndGlyphs">Hi:</tspan> <tspan x="366.7" textLength="46.1" lengthAdjust="spacingAndGlyphs">1119.9039</tspan></text>
<circle cx="380.2" cy="249.8" r="2.6" fill="#fff"/>
<text y="465" font-size="10.8" fill="#f0f0f0"><tspan x="778.6" textLength="21.3" lengthAdjust="spacingAndGlyphs">Low:</tspan> <tspan x="806.1" textLength="45.5" lengthAdjust="spacingAndGlyphs">-523.1524</tspan></text>
<circle cx="852.2" cy="453.2" r="2.7" fill="#fff"/>
</svg></body></html>
